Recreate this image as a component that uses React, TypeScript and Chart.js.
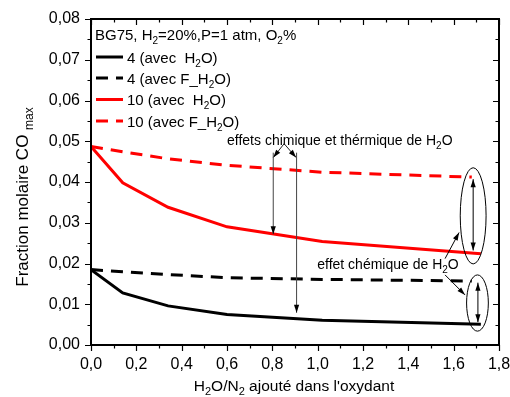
import { useEffect, useRef } from "react";
import { Chart, registerables } from "chart.js";

Chart.register(...registerables);

const FONT = '"Liberation Sans", Arial, Helvetica, sans-serif';

// H2O/N2 ratio added to the oxidiser
const xSolid = [0, 0.14, 0.34, 0.6, 1.02, 1.72];
const xDashed = [0, 0.14, 0.34, 0.6, 1.02, 1.68];

// Peak CO mole fraction for O2 = 4 % and 10 %, with real and fictitious water
const co4Water = [0.0185, 0.0128, 0.0096, 0.0075, 0.0061, 0.0051];
const co4Fictive = [0.0185, 0.018, 0.0173, 0.0165, 0.0161, 0.0157];
const co10Water = [0.0487, 0.0398, 0.0338, 0.029, 0.0254, 0.0224];
const co10Fictive = [0.0487, 0.0474, 0.0457, 0.0441, 0.0424, 0.0412];

const seriesLabels = ["4 (avec  H{2}O)", "4 (avec F_H{2}O)", "10 (avec  H{2}O)", "10 (avec F_H{2}O)"];
const legendTitle = "BG75, H{2}=20%,P=1 atm, O{2}%";
const xTitle = "H{2}O/N{2} ajouté dans l'oxydant";
const yTitle = "Fraction molaire CO {max}";
const noteThermal = "effets chimique et thérmique de H{2}O";
const noteChemical = "effet chémique de H{2}O";

const X_MIN = 0, X_MAX = 1.8, X_STEP = 0.2, X_MINOR = 0.1;
const Y_MIN = 0, Y_MAX = 0.08, Y_STEP = 0.01, Y_MINOR = 0.005;

type Part = { t: string; sub: boolean };
const richParts = (s: string): Part[] =>
  s.split(/\{([^}]*)\}/).map((t, i) => ({ t, sub: i % 2 === 1 })).filter((p) => p.t.length > 0);

function drawRich(ctx: CanvasRenderingContext2D, s: string, x: number, y: number, size: number, align: "left" | "center" = "left") {
  const parts = richParts(s);
  const subSize = Math.round(size * 0.68);
  const fontOf = (p: Part) => `${p.sub ? subSize : size}px ${FONT}`;
  let total = 0;
  const widths = parts.map((p) => {
    ctx.font = fontOf(p);
    const w = ctx.measureText(p.t).width;
    total += w;
    return w;
  });
  let cx = align === "center" ? x - total / 2 : x;
  ctx.textAlign = "left";
  ctx.textBaseline = "alphabetic";
  parts.forEach((p, i) => {
    ctx.font = fontOf(p);
    ctx.fillText(p.t, cx, p.sub ? y + size * 0.28 : y);
    cx += widths[i];
  });
}

function arrowHead(ctx: CanvasRenderingContext2D, fx: number, fy: number, tx: number, ty: number, len = 8, half = 2.6) {
  const a = Math.atan2(ty - fy, tx - fx);
  ctx.beginPath();
  ctx.moveTo(tx, ty);
  ctx.lineTo(tx - len * Math.cos(a) + half * Math.sin(a), ty - len * Math.sin(a) - half * Math.cos(a));
  ctx.lineTo(tx - len * Math.cos(a) - half * Math.sin(a), ty - len * Math.sin(a) + half * Math.cos(a));
  ctx.closePath();
  ctx.fill();
}

function arrow(ctx: CanvasRenderingContext2D, x1: number, y1: number, x2: number, y2: number, both = false) {
  ctx.beginPath();
  ctx.moveTo(x1, y1);
  ctx.lineTo(x2, y2);
  ctx.stroke();
  arrowHead(ctx, x1, y1, x2, y2);
  if (both) arrowHead(ctx, x2, y2, x1, y1);
}

const decorations = {
  id: "decorations",
  afterDraw(chart: any) {
    const { ctx, chartArea: ca, scales } = chart;
    const xs = scales.x, ys = scales.y;
    const px = (v: number) => xs.getPixelForValue(v);
    const py = (v: number) => ys.getPixelForValue(v);
    ctx.save();

    // frame
    ctx.strokeStyle = "#000";
    ctx.lineWidth = 2;
    ctx.strokeRect(ca.left, ca.top, ca.right - ca.left, ca.bottom - ca.top);

    // ticks: outward on bottom/left, inward on top/right
    ctx.lineWidth = 1.2;
    ctx.beginPath();
    const nx = Math.round((X_MAX - X_MIN) / X_MINOR);
    for (let i = 0; i <= nx; i++) {
      const x = Math.round(px(X_MIN + i * X_MINOR)) + 0.5;
      const len = i % Math.round(X_STEP / X_MINOR) === 0 ? 6 : 3.5;
      ctx.moveTo(x, ca.bottom);
      ctx.lineTo(x, ca.bottom + len);
      ctx.moveTo(x, ca.top);
      ctx.lineTo(x, ca.top + len);
    }
    const ny = Math.round((Y_MAX - Y_MIN) / Y_MINOR);
    for (let j = 0; j <= ny; j++) {
      const y = Math.round(py(Y_MIN + j * Y_MINOR)) + 0.5;
      const len = j % Math.round(Y_STEP / Y_MINOR) === 0 ? 6 : 3.5;
      ctx.moveTo(ca.left - len, y);
      ctx.lineTo(ca.left, y);
      ctx.moveTo(ca.right - len, y);
      ctx.lineTo(ca.right, y);
    }
    ctx.stroke();

    ctx.fillStyle = "#000";

    // axis titles
    drawRich(ctx, xTitle, (ca.left + ca.right) / 2 - 1, 391, 15.5, "center");
    ctx.save();
    ctx.translate(28, 197);
    ctx.rotate(-Math.PI / 2);
    drawRich(ctx, yTitle, 0, 0, 17, "center");
    ctx.restore();

    // legend
    drawRich(ctx, legendTitle, ca.left + 4, ca.top + 21, 15);
    const rowY = [38, 59, 80.5, 102];
    chart.data.datasets.forEach((ds: any, i: number) => {
      const y = ca.top + rowY[i];
      ctx.save();
      ctx.strokeStyle = ds.borderColor;
      ctx.lineWidth = ds.borderWidth;
      ctx.setLineDash(ds.borderDash || []);
      ctx.beginPath();
      ctx.moveTo(ca.left + 5, y);
      ctx.lineTo(ca.left + 32, y);
      ctx.stroke();
      ctx.restore();
      drawRich(ctx, ds.label, ca.left + 36, y + 5.5, 15);
    });

    // annotations
    ctx.strokeStyle = "#222";
    ctx.fillStyle = "#000";
    ctx.lineWidth = 1;
    drawRich(ctx, noteThermal, px(0.6), py(0.0502) + 5, 14);
    const fork = { x: px(0.852), y: py(0.0494) };
    arrow(ctx, fork.x, fork.y, px(0.804), py(0.046));
    arrow(ctx, fork.x, fork.y, px(0.905), py(0.046));
    ctx.strokeStyle = "#444";
    arrow(ctx, px(0.804), py(0.0472), px(0.804), py(0.0272));
    arrow(ctx, px(0.907), py(0.0472), px(0.907), py(0.0079));

    ctx.strokeStyle = "#000";
    drawRich(ctx, noteChemical, px(0.998), py(0.0198) + 5, 14);
    arrow(ctx, px(1.562), py(0.0212), px(1.624), py(0.0276));
    arrow(ctx, px(1.562), py(0.0172), px(1.65), py(0.0123));

    // ellipses with double arrows
    const ell = (cx: number, cy: number, rx: number, ry: number) => {
      ctx.beginPath();
      ctx.ellipse(px(cx), py(cy), Math.abs(px(cx + rx) - px(cx)), Math.abs(py(cy + ry) - py(cy)), 0, 0, Math.PI * 2);
      ctx.stroke();
    };
    ell(1.686, 0.0317, 0.057, 0.0118);
    arrow(ctx, px(1.686), py(0.0407), px(1.686), py(0.0232), true);
    ell(1.705, 0.0103, 0.048, 0.0069);
    arrow(ctx, px(1.707), py(0.0153), px(1.707), py(0.0056), true);

    ctx.restore();
  },
};

const toPoints = (xs: number[], ys: number[]) => ys.map((y, i) => ({ x: xs[i], y }));

export default function App() {
  const ref = useRef<HTMLCanvasElement | null>(null);

  useEffect(() => {
    document.body.style.margin = "0";
    const canvas = ref.current;
    if (!canvas) return;
    const series = [
      { data: toPoints(xSolid, co4Water), color: "#000000", dash: [] as number[] },
      { data: toPoints(xDashed, co4Fictive), color: "#000000", dash: [12, 8] },
      { data: toPoints(xSolid, co10Water), color: "#ff0000", dash: [] as number[] },
      { data: toPoints(xDashed, co10Fictive), color: "#ff0000", dash: [12, 8] },
    ];
    const chart = new Chart(canvas, {
      type: "line",
      data: {
        datasets: series.map((s, i) => ({
          label: seriesLabels[i],
          data: s.data,
          borderColor: s.color,
          backgroundColor: s.color,
          borderWidth: 3,
          borderDash: s.dash,
          pointRadius: 0,
          tension: 0,
          fill: false,
        })),
      },
      options: {
        animation: false,
        responsive: false,
        devicePixelRatio: 1,
        layout: { padding: { top: 19, right: 11, left: 0, bottom: 0 } },
        plugins: { legend: { display: false }, tooltip: { enabled: false } },
        scales: {
          x: {
            type: "linear",
            min: X_MIN,
            max: X_MAX,
            grid: { display: false, drawTicks: false },
            border: { display: false },
            ticks: {
              stepSize: X_STEP,
              padding: 10,
              color: "#000",
              font: { family: FONT, size: 16 },
              callback: (v: any) => Number(v).toFixed(1).replace(".", ","),
            },
            afterFit: (s: any) => {
              s.height = 52;
              s.paddingLeft = 0;
              s.paddingRight = 0;
            },
          },
          y: {
            type: "linear",
            min: Y_MIN,
            max: Y_MAX,
            grid: { display: false, drawTicks: false },
            border: { display: false },
            ticks: {
              stepSize: Y_STEP,
              padding: 11,
              color: "#000",
              font: { family: FONT, size: 16 },
              callback: (v: any) => Number(v).toFixed(2).replace(".", ","),
            },
            afterFit: (s: any) => {
              s.width = 91;
              s.paddingTop = 0;
              s.paddingBottom = 0;
            },
          },
        },
      },
      plugins: [decorations],
    });
    return () => chart.destroy();
  }, []);

  return (
    <div style={{ position: "fixed", left: 0, top: 0, width: 510, height: 397, background: "#fff" }}>
      <canvas ref={ref} width={510} height={397} style={{ display: "block" }} />
    </div>
  );
}
